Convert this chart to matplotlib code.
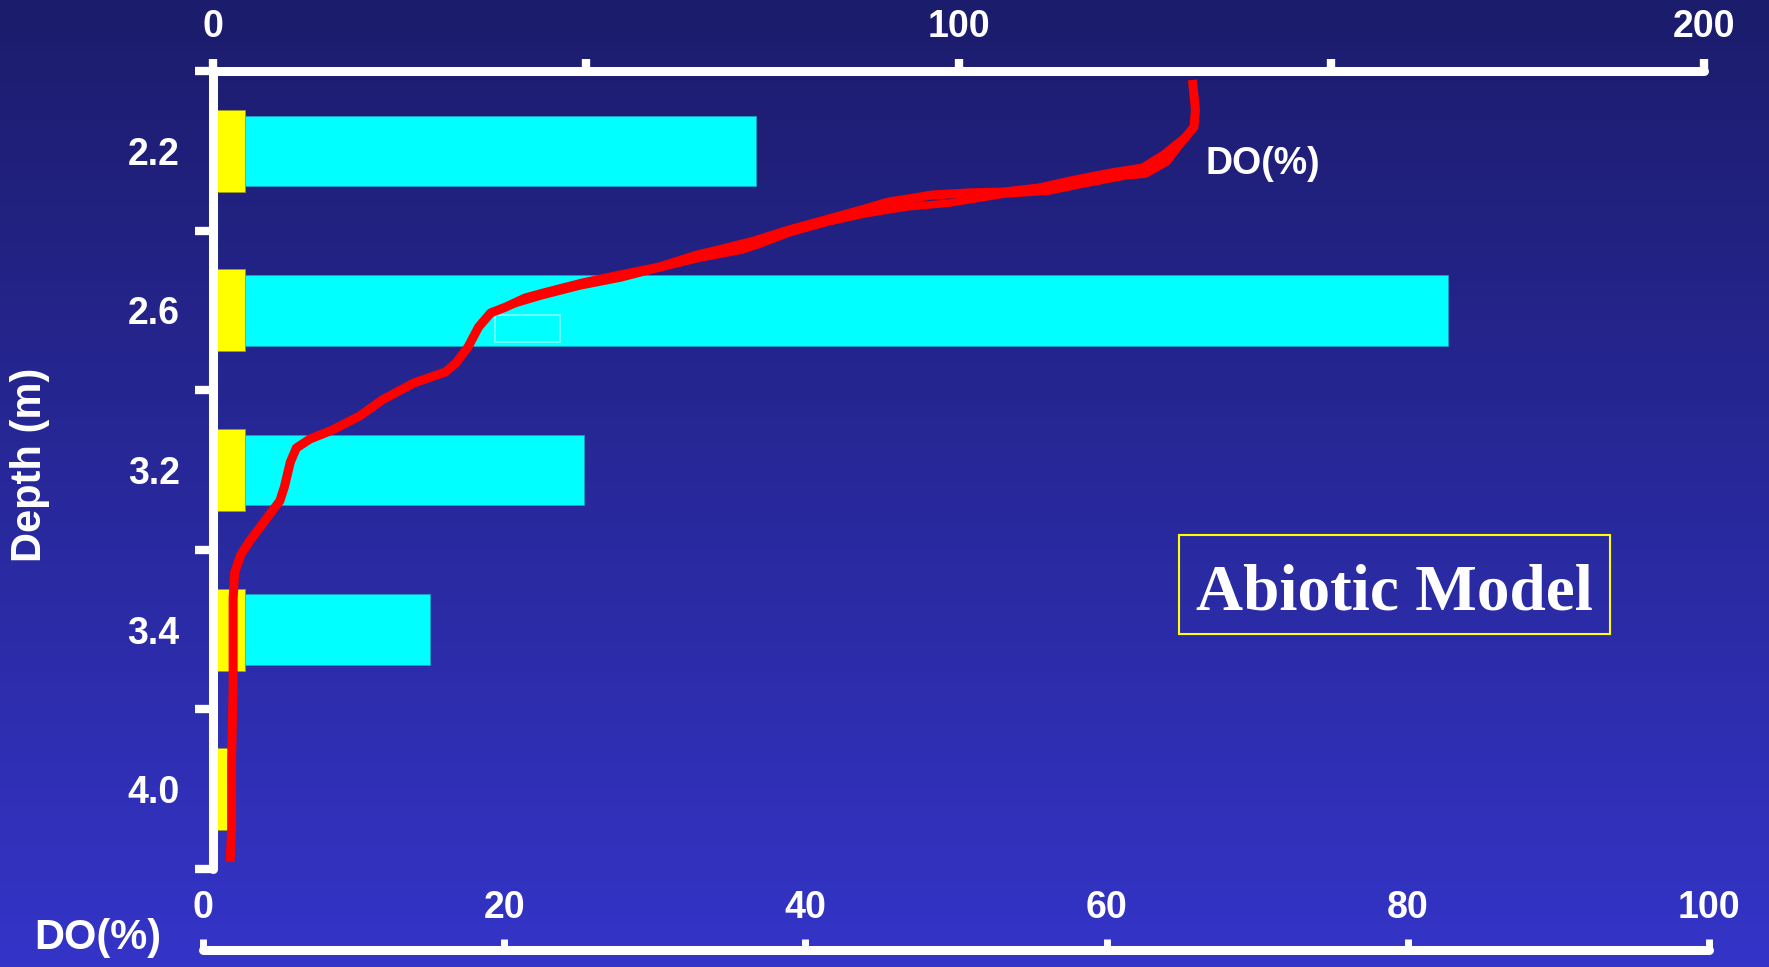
import matplotlib
matplotlib.use('Agg')
import matplotlib.pyplot as plt
from matplotlib.patches import Rectangle
import numpy as np

# data
depth_labels = ['2.2', '2.6', '3.2', '3.4', '4.0']
cyan_vals = [72.9, 165.7, 49.7, 29.1, 0.0]      # top axis (0-200)
yellow_vals = [4.3, 4.3, 4.3, 4.3, 2.2]         # top axis (0-200)

# DO(%) profile, y is position along the depth axis (0 = top, 5 = bottom)
do_pct = [65.7, 65.9, 65.8, 65.2, 63.8, 62.4, 60.3, 57.9, 55.5, 53.2, 50.8,
          48.4, 47.2, 45.5, 43.7, 41.3, 38.9, 36.6, 34.2, 32.8, 30.3, 27.7,
          25.2, 22.6, 21.4, 20.1, 19.1, 18.3, 17.6, 16.8, 16.1, 14.0, 11.9,
          10.4, 8.6, 7.1, 6.2, 5.8, 5.4, 5.1, 4.2, 3.1, 2.5, 2.1, 2.0, 2.0,
          2.0, 1.9, 1.9, 1.8]
do_depth = [0.056, 0.244, 0.351, 0.420, 0.526, 0.608, 0.639, 0.683, 0.733,
            0.758, 0.764, 0.777, 0.796, 0.821, 0.871, 0.934, 0.996, 1.065,
            1.122, 1.153, 1.228, 1.278, 1.328, 1.391, 1.422, 1.479, 1.516,
            1.604, 1.729, 1.830, 1.886, 1.955, 2.061, 2.162, 2.249, 2.306,
            2.362, 2.450, 2.607, 2.694, 2.807, 2.945, 3.033, 3.145, 3.302,
            3.528, 3.860, 4.311, 4.756, 4.956]
# second (repeat) trace that thickens the upper part of the profile
do_pct_2 = [65.4, 64.9, 64.0, 62.6, 61.2, 58.1, 56.2, 53.2, 49.6, 46.7, 43.9,
            41.5, 38.9, 37.0, 35.8, 33.0, 30.3, 27.7, 25.0, 22.4, 20.4]
do_depth_2 = [0.40, 0.46, 0.57, 0.645, 0.658, 0.714, 0.752, 0.771, 0.827,
              0.852, 0.896, 0.946, 1.015, 1.084, 1.122, 1.172, 1.234, 1.297,
              1.347, 1.410, 1.466]

top_major = [0, 100, 200]
top_minor = [50, 150]
bottom_ticks = [0, 20, 40, 60, 80, 100]

W, H = 1769, 967
fig = plt.figure(figsize=(W / 100, H / 100), dpi=100)

# gradient background
bg = fig.add_axes([0, 0, 1, 1], zorder=-10)
top_c = np.array([28, 28, 108]) / 255
bot_c = np.array([52, 52, 200]) / 255
t = np.linspace(0, 1, 256)[:, None]
grad = top_c[None, :] * (1 - t) + bot_c[None, :] * t
bg.imshow(grad[:, None, :], aspect='auto', extent=[0, 1, 0, 1])
bg.axis('off')

font = 'Liberation Sans'
white = 'white'
lw_axis = 6.5

# main axes for bars (top scale 0-200)
ax = fig.add_axes([213 / W, (H - 869) / H, (1704 - 213) / W, (869 - 71) / H])
ax.patch.set_alpha(0)
pos = np.arange(len(depth_labels)) + 0.5
ax.barh(pos, cyan_vals, height=0.44, color='#00ffff', edgecolor='#1aa0c0',
        linewidth=0.6, zorder=2)
ax.barh(pos, yellow_vals, height=0.515, color='#ffff00', edgecolor='#9a9a20',
        linewidth=0.6, zorder=3)
ax.set_xlim(0, 200)
ax.set_ylim(5, 0)

for s in ['bottom', 'right']:
    ax.spines[s].set_visible(False)
for s in ['top', 'left']:
    ax.spines[s].set_color(white)
    ax.spines[s].set_linewidth(lw_axis)
    ax.spines[s].set_capstyle('round')
    ax.spines[s].set_zorder(4)

ax.xaxis.set_ticks_position('top')
ax.set_xticks(top_major)
ax.set_xticks(top_minor, minor=True)
ax.set_xticklabels([str(v) for v in top_major])
ax.tick_params(axis='x', which='both', direction='out', length=9, width=6,
               color=white, labelcolor=white, pad=10, labelsize=27)
ax.set_yticks(np.arange(6))
ax.set_yticklabels([])
ax.set_yticks(pos, minor=True)
ax.set_yticklabels(depth_labels, minor=True)
ax.tick_params(axis='y', which='major', direction='out', length=13, width=6,
               color=white)
ax.tick_params(axis='y', which='minor', length=0, labelcolor=white,
               labelsize=27, pad=24)
for lab in ax.get_xticklabels() + ax.get_yticklabels(minor=True):
    lab.set_fontweight('bold')
    lab.set_fontfamily(font)

# DO axes (bottom scale 0-100)
ax2 = fig.add_axes([203 / W, (H - 869) / H, (1709 - 203) / W, (869 - 71) / H])
ax2.patch.set_alpha(0)
ax2.plot(do_pct, do_depth, color='#ff0000', lw=6.5, solid_capstyle='butt',
         solid_joinstyle='round', zorder=5)
ax2.plot(do_pct_2, do_depth_2, color='#ff0000', lw=5.5, solid_capstyle='butt',
         solid_joinstyle='round', zorder=5)
ax2.set_xlim(0, 100)
ax2.set_ylim(5, 0)
for s in ['top', 'left', 'right']:
    ax2.spines[s].set_visible(False)
ax2.spines['bottom'].set_position(('outward', 58))
ax2.spines['bottom'].set_color(white)
ax2.spines['bottom'].set_linewidth(lw_axis)
ax2.spines['bottom'].set_capstyle('round')
ax2.set_yticks([])
ax2.set_xticks(bottom_ticks)
ax2.set_xticklabels([str(v) for v in bottom_ticks])
ax2.tick_params(axis='x', direction='in', length=8, width=5, color=white,
                labelcolor=white, labelsize=27, pad=-43)
for lab in ax2.get_xticklabels():
    lab.set_fontweight('bold')
    lab.set_fontfamily(font)

# small outlined box left over in the original
ax2.add_patch(Rectangle((19.4, 1.53), 4.3, 0.17, fill=False,
                        edgecolor='#80ffff', lw=1.2, zorder=4))

ax2.text(66.6, 0.58, 'DO(%)', color=white, fontsize=27, fontweight='bold',
         family=font, va='center', ha='left')

# axis titles
fig.text(30 / W, 1 - 465 / H, 'Depth (m)', rotation=90, color=white,
         fontsize=30, fontweight='bold', family=font, ha='center', va='center')
fig.text(98 / W, 1 - 938 / H, 'DO(%)', color=white, fontsize=30,
         fontweight='bold', family=font, ha='center', va='center')

# model label box
fig.patches.append(Rectangle((1179 / W, 1 - 634 / H), 431 / W, 99 / H,
                             transform=fig.transFigure, fill=False,
                             edgecolor='#ffff00', lw=1.5))
fig.text(1394 / W, 1 - 609 / H, 'Abiotic Model', color=white, fontsize=47,
         fontweight='bold', family='Liberation Serif', ha='center',
         va='baseline')

fig.savefig('out.png', dpi=100)
